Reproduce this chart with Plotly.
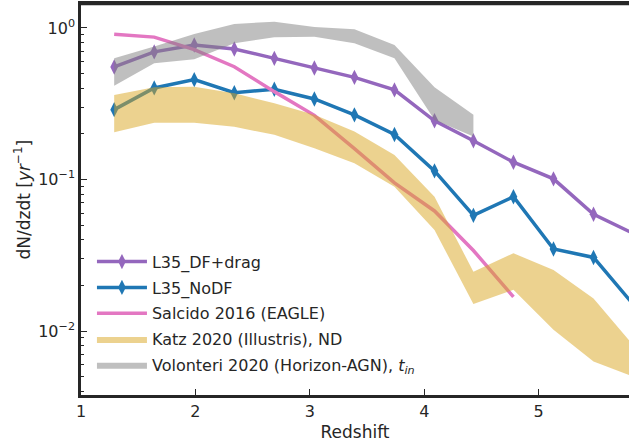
import plotly.graph_objects as go

# ---- data ----
z_sim = [1.29, 1.64, 1.99, 2.34, 2.69, 3.04, 3.39, 3.74, 4.09, 4.43, 4.78, 5.13, 5.48, 5.83]
df_drag = [0.553, 0.695, 0.772, 0.727, 0.63, 0.544, 0.472, 0.39, 0.244, 0.18, 0.13, 0.101, 0.059, 0.044]
nodf = [0.289, 0.402, 0.456, 0.374, 0.394, 0.34, 0.267, 0.198, 0.114, 0.058, 0.077, 0.0348, 0.0306, 0.0149]

z_salcido = [1.29, 1.64, 1.99, 2.34, 2.69, 3.04, 3.39, 3.74, 4.09, 4.43, 4.78]
salcido = [0.91, 0.87, 0.72, 0.555, 0.38, 0.265, 0.16, 0.095, 0.062, 0.034, 0.0168]

z_katz = z_sim
katz_hi = [0.361, 0.406, 0.410, 0.371, 0.318, 0.267, 0.207, 0.145, 0.077, 0.0246, 0.0326, 0.0253, 0.0164, 0.0080]
katz_lo = [0.205, 0.237, 0.237, 0.223, 0.197, 0.161, 0.128, 0.0896, 0.0464, 0.0151, 0.0187, 0.0102, 0.00629, 0.00499]

z_vol = [1.29, 1.64, 1.99, 2.34, 2.69, 3.04, 3.39, 3.74, 4.09, 4.43]
vol_hi = [0.631, 0.753, 0.913, 1.063, 1.10, 1.015, 0.98, 0.772, 0.406, 0.267]
vol_lo = [0.416, 0.585, 0.621, 0.793, 0.868, 0.876, 0.793, 0.631, 0.247, 0.192]

xticks = [1, 2, 3, 4, 5]
yticks = [1, 0.1, 0.01]
yticktext = ["10<sup>0</sup>", "10<sup>\u22121</sup>", "10<sup>\u22122</sup>"]
yminor = [m * 10 ** e for e in (-3, -2, -1, 0) for m in range(2, 10)]

FONT = "DejaVu Sans"
INK = "#262626"

fig = go.Figure()

fig.add_trace(go.Scatter(
    x=z_sim, y=df_drag, mode="lines+markers", name="L35_DF+drag",
    line=dict(color="#9467bd", width=3.5),
    marker=dict(symbol="diamond-tall", size=11, color="#9467bd"),
    legendgroup="a"))
fig.add_trace(go.Scatter(
    x=z_sim, y=nodf, mode="lines+markers", name="L35_NoDF",
    line=dict(color="#1f77b4", width=3.5),
    marker=dict(symbol="diamond-tall", size=11, color="#1f77b4"),
    legendgroup="b"))
fig.add_trace(go.Scatter(
    x=z_salcido, y=salcido, mode="lines", name="Salcido 2016 (EAGLE)",
    line=dict(color="#e377c2", width=3.5), legendgroup="c"))
fig.add_trace(go.Scatter(
    x=z_katz + z_katz[::-1], y=katz_hi + katz_lo[::-1], mode="lines",
    fill="toself", fillcolor="rgba(218,165,32,0.5)", line=dict(width=0),
    name="Katz 2020 (Illustris), ND", legendgroup="d"))
fig.add_trace(go.Scatter(
    x=z_vol + z_vol[::-1], y=vol_hi + vol_lo[::-1], mode="lines",
    fill="toself", fillcolor="rgba(128,128,128,0.5)", line=dict(width=0),
    name="Volonteri 2020 (Horizon-AGN), <i>t</i><sub><i>in</i></sub>", legendgroup="e"))

fig.update_layout(
    width=629, height=442,
    margin=dict(l=81, r=0, t=4, b=47),
    paper_bgcolor="white", plot_bgcolor="white",
    font=dict(family=FONT, size=16, color=INK),
    showlegend=True,
    legend=dict(x=0.02, y=0.034, xanchor="left", yanchor="bottom",
                bgcolor="rgba(255,255,255,0)", font=dict(size=16, color=INK),
                tracegroupgap=2, itemwidth=50),
    annotations=[dict(
        text="dN/dzdt [<i>yr</i><sup>\u22121</sup>]", xref="paper", yref="paper",
        x=-0.1077, y=0.5, xanchor="center", yanchor="middle", textangle=-90,
        showarrow=False, font=dict(size=17, color=INK))],
    shapes=[dict(type="rect", xref="paper", yref="paper", x0=-0.002, x1=1.01,
                 y0=0.9965, y1=1.0025, fillcolor=INK, line=dict(width=0), layer="above")],
)

fig.update_xaxes(
    range=[1, 5.79], tickvals=xticks, ticks="inside", ticklen=6, tickwidth=1.2,
    tickcolor=INK, showline=True, linecolor=INK, linewidth=2.5, mirror=True,
    showgrid=False, zeroline=False, tickfont=dict(size=16), automargin=False,
    title=dict(text="Redshift", font=dict(size=17)),
)
fig.update_yaxes(
    type="log", range=[-2.422, 0.158], tickvals=yticks, ticktext=yticktext,
    ticks="inside", ticklen=6, tickwidth=1.2, tickcolor=INK,
    showline=True, linecolor=INK, linewidth=2.5, showgrid=False, zeroline=False,
    tickfont=dict(size=16), automargin=False,
    minor=dict(tickvals=yminor, ticks="inside", ticklen=3, tickwidth=1, tickcolor=INK, showgrid=False),
)

fig.write_html(
    "out.html",
    config={"displayModeBar": False},
    post_script="document.body.style.margin='0';document.body.style.overflow='hidden';",
)
